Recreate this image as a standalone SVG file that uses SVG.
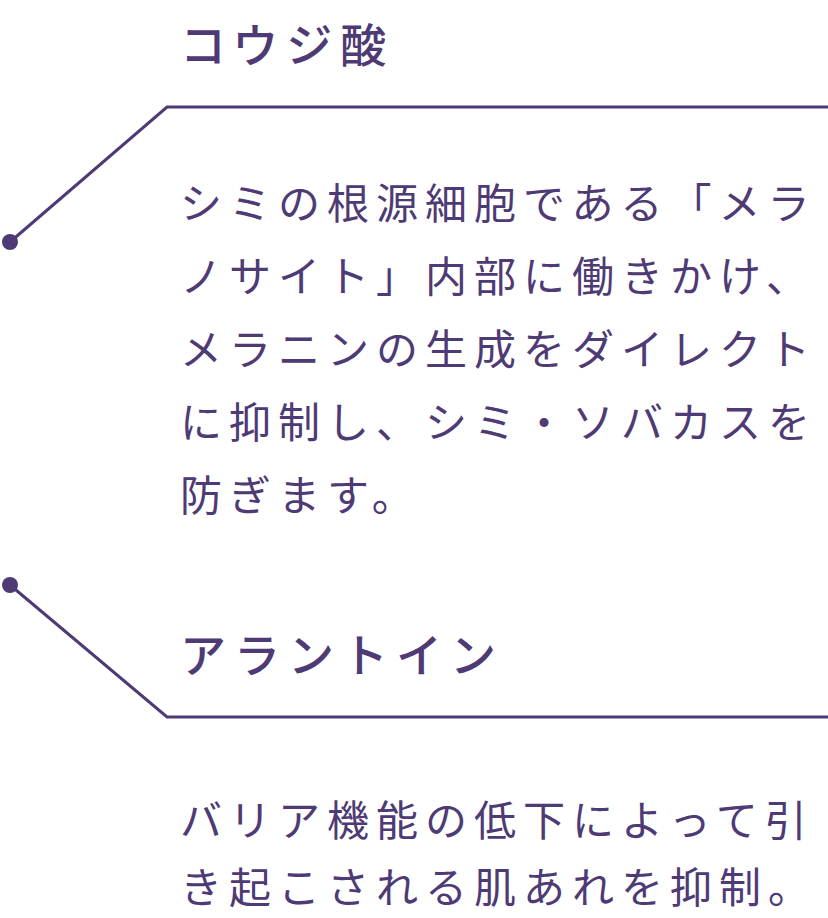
<svg xmlns="http://www.w3.org/2000/svg" width="828" height="918" viewBox="0 0 828 918">
<style>
.h{font-family:"Noto Sans CJK JP","Noto Sans",sans-serif;font-size:46px;font-weight:500;fill:#4e3a74;letter-spacing:8px}
.b{font-family:"Noto Sans CJK JP","Noto Sans",sans-serif;font-size:42px;font-weight:400;fill:#4e3a74;letter-spacing:7px}
.l{fill:none;stroke:#4e3a74;stroke-width:3}
.d{fill:#4e3a74}
</style>
<rect width="828" height="918" fill="#fff"/>
<g id="connectors">
<polyline class="l" points="10,242 167,107 828,107"/>
<circle class="d" cx="10" cy="242" r="8"/>
<polyline class="l" points="10,585 167,717 828,717"/>
<circle class="d" cx="10" cy="585" r="8"/>
</g>
<g id="kojic">
<text class="h" x="180" y="62">コウジ酸</text>
<text class="b" x="180" y="219">シミの根源細胞である「メラ</text>
<text class="b" x="180" y="292">ノサイト」内部に働きかけ、</text>
<text class="b" x="180" y="365">メラニンの生成をダイレクト</text>
<text class="b" x="180" y="438">に抑制し、シミ・ソバカスを</text>
<text class="b" x="180" y="511">防ぎます。</text>
</g>
<g id="allantoin">
<text class="h" x="180" y="672">アラントイン</text>
<text class="b" x="180" y="836">バリア機能の低下によって引</text>
<text class="b" x="180" y="903">き起こされる肌あれを抑制。</text>
</g>
</svg>
